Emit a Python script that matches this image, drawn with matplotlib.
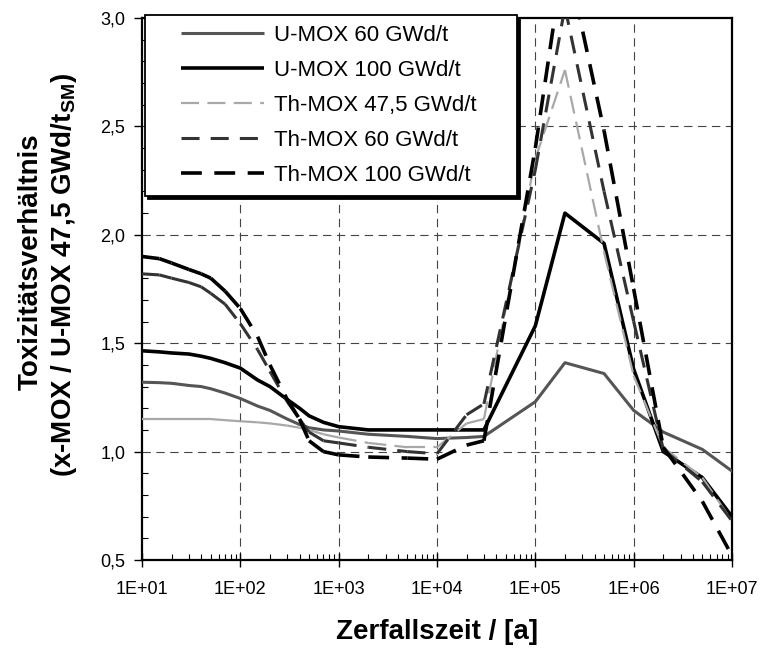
import numpy as np
import matplotlib
matplotlib.use("Agg")
import matplotlib.pyplot as plt
from matplotlib.collections import LineCollection
from matplotlib.lines import Line2D
from matplotlib.legend_handler import HandlerLine2D
from matplotlib.ticker import FixedLocator, LogLocator, MultipleLocator, FuncFormatter, NullFormatter

plt.rcParams['font.family'] = ['Liberation Sans', 'DejaVu Sans']
plt.rcParams['lines.scale_dashes'] = False
plt.rcParams['mathtext.fontset'] = 'custom'
plt.rcParams['mathtext.rm'] = 'Liberation Sans:bold'
plt.rcParams['mathtext.bf'] = 'Liberation Sans:bold'

# decay time in years
years = [10, 15, 20, 30, 40, 50, 70, 100, 150, 200, 300, 400, 500, 700, 1000,
         2000, 5000, 1e4, 2e4, 3e4, 1e5, 2e5, 5e5, 1e6, 2e6, 5e6, 1e7]

# toxicity ratio relative to U-MOX 47,5 GWd/tSM
u_mox_60 = [1.32, 1.318, 1.315, 1.305, 1.30, 1.29, 1.27, 1.245, 1.21, 1.19, 1.15, 1.125, 1.11, 1.10, 1.095,
            1.08, 1.07, 1.06, 1.065, 1.07, 1.23, 1.41, 1.36, 1.19, 1.09, 1.01, 0.91]
u_mox_100 = [1.465, 1.46, 1.455, 1.45, 1.44, 1.43, 1.41, 1.385, 1.33, 1.30, 1.24, 1.20, 1.165, 1.135, 1.115,
             1.10, 1.10, 1.10, 1.10, 1.10, 1.58, 2.10, 1.96, 1.38, 1.00, 0.88, 0.70]
th_mox_475 = [1.15, 1.15, 1.15, 1.15, 1.15, 1.15, 1.145, 1.14, 1.135, 1.13, 1.12, 1.11, 1.10, 1.08, 1.065,
              1.04, 1.02, 1.02, 1.13, 1.15, 2.35, 2.76, 1.92, 1.35, 1.02, 0.88, 0.68]
th_mox_60 = [1.82, 1.815, 1.80, 1.78, 1.76, 1.73, 1.68, 1.59, 1.47, 1.37, 1.23, 1.15, 1.09, 1.05, 1.04,
             1.02, 1.00, 0.99, 1.17, 1.22, 2.30, 3.05, 2.20, 1.60, 1.01, 0.86, 0.68]
th_mox_100 = [1.90, 1.89, 1.87, 1.84, 1.82, 1.80, 1.74, 1.66, 1.53, 1.40, 1.24, 1.15, 1.05, 1.00, 0.985,
              0.975, 0.97, 0.965, 1.03, 1.05, 2.40, 3.32, 2.48, 1.75, 1.02, 0.77, 0.52]

labels = ['U-MOX 60 GWd/t', 'U-MOX 100 GWd/t', 'Th-MOX 47,5 GWd/t',
          'Th-MOX 60 GWd/t', 'Th-MOX 100 GWd/t']
series = [u_mox_60, u_mox_100, th_mox_475, th_mox_60, th_mox_100]
colors = ['#555555', '#000000', '#a8a8a8', '#333333', '#000000']
widths = [2.2, 2.6, 1.6, 2.2, 2.6]
dashes = [None, None, (0, (13, 6)), (0, (13, 8)), (0, (15, 9))]

x_ticks = [1e1, 1e2, 1e3, 1e4, 1e5, 1e6, 1e7]
y_ticks = [0.5, 1.0, 1.5, 2.0, 2.5, 3.0]

fig = plt.figure(figsize=(7.68, 6.55), dpi=100)
ax = fig.add_axes([142 / 768, 1 - 560 / 655, 590 / 768, 542 / 655])
ax.set_xscale('log')
ax.set_xlim(1e1, 1e7)
ax.set_ylim(0.5, 3.0)

# dashed grid
for v in y_ticks[1:-1]:
    ax.axhline(v, color='#444444', lw=0.8, ls=(0, (6, 4)), zorder=1)
for v in x_ticks[1:-1]:
    ax.axvline(v, color='#444444', lw=0.8, ls=(0, (6, 4)), zorder=1)

x = np.array(years, dtype=float)
for vals, c, lw, ls in zip(series, colors, widths, dashes):
    y = np.array(vals, dtype=float)
    if ls is None:
        ax.plot(x, y, color=c, lw=lw, solid_joinstyle='round', zorder=3)
    else:
        # each segment restarts its dash pattern
        pts = np.column_stack([x, y])
        segs = np.stack([pts[:-1], pts[1:]], axis=1)
        lc = LineCollection(segs, colors=c, linewidths=lw, linestyles=[ls], zorder=3,
                            capstyle='butt')
        ax.add_collection(lc)

# ticks
ax.xaxis.set_major_locator(FixedLocator(x_ticks))
ax.xaxis.set_minor_locator(LogLocator(base=10, subs=np.arange(2, 10)))
ax.xaxis.set_major_formatter(FuncFormatter(lambda v, _: f"1E+{int(round(np.log10(v))):02d}"))
ax.xaxis.set_minor_formatter(NullFormatter())
ax.yaxis.set_major_locator(FixedLocator(y_ticks))
ax.yaxis.set_minor_locator(MultipleLocator(0.1))
ax.yaxis.set_major_formatter(FuncFormatter(lambda v, _: f"{v:.1f}".replace('.', ',')))

ax.tick_params(axis='x', which='major', direction='inout', length=10, width=1.0,
               labelsize=13, pad=10)
ax.tick_params(axis='x', which='minor', direction='in', length=4, width=0.8)
ax.tick_params(axis='y', which='major', direction='out', length=6, width=1.0,
               labelsize=13, pad=6)
ax.tick_params(axis='y', which='minor', direction='in', length=4, width=0.8)
for s in ax.spines.values():
    s.set_linewidth(1.6)
    s.set_color('black')


class InsetLineHandler(HandlerLine2D):
    """Legend sample drawn only on the right part of the handle box."""
    def create_artists(self, legend, orig_handle, xdescent, ydescent, width, height,
                       fontsize, trans):
        artists = super().create_artists(legend, orig_handle, xdescent, ydescent,
                                         width, height, fontsize, trans)
        for a in artists:
            xd = np.asarray(a.get_xdata(), dtype=float)
            if len(xd) >= 2:
                x0, x1 = xd.min(), xd.max()
                a.set_xdata(np.linspace(x0 + 0.24 * (x1 - x0), x1, len(xd)))
        return artists


handles = [Line2D([0, 1], [0, 0], color=c, lw=lw, ls=(ls if ls else '-'),
                  solid_capstyle='butt', dash_capstyle='butt')
           for c, lw, ls in zip(colors, widths, dashes)]
leg = ax.legend(handles, labels, loc='upper left',
                bbox_to_anchor=(145 / 768, 1 - 205 / 655, 372 / 768, 190 / 655),
                bbox_transform=fig.transFigure, mode='expand', borderaxespad=0,
                fontsize=16, handlelength=4.9, handletextpad=0.45, labelspacing=0.63,
                borderpad=0.45, fancybox=False,
                shadow={'color': 'black', 'alpha': 1.0},
                handler_map={Line2D: InsetLineHandler()})
leg.get_frame().set_edgecolor('black')
leg.get_frame().set_linewidth(1.3)
leg.set_zorder(6)

# axis titles
fig.text(31 / 768, 1 - 262 / 655, 'Toxizitätsverhältnis', rotation=90, ha='center',
         va='center', fontsize=20, fontweight='bold')
fig.text(64 / 768, 1 - 275 / 655, r'(x-MOX / U-MOX 47,5 GWd/t$_{\mathrm{SM}}$)', rotation=90,
         ha='center', va='center', fontsize=20, fontweight='bold')
fig.text(437 / 768, 1 - 632 / 655, 'Zerfallszeit / [a]', ha='center', va='center',
         fontsize=20, fontweight='bold')

fig.savefig('out.png', dpi=100)
